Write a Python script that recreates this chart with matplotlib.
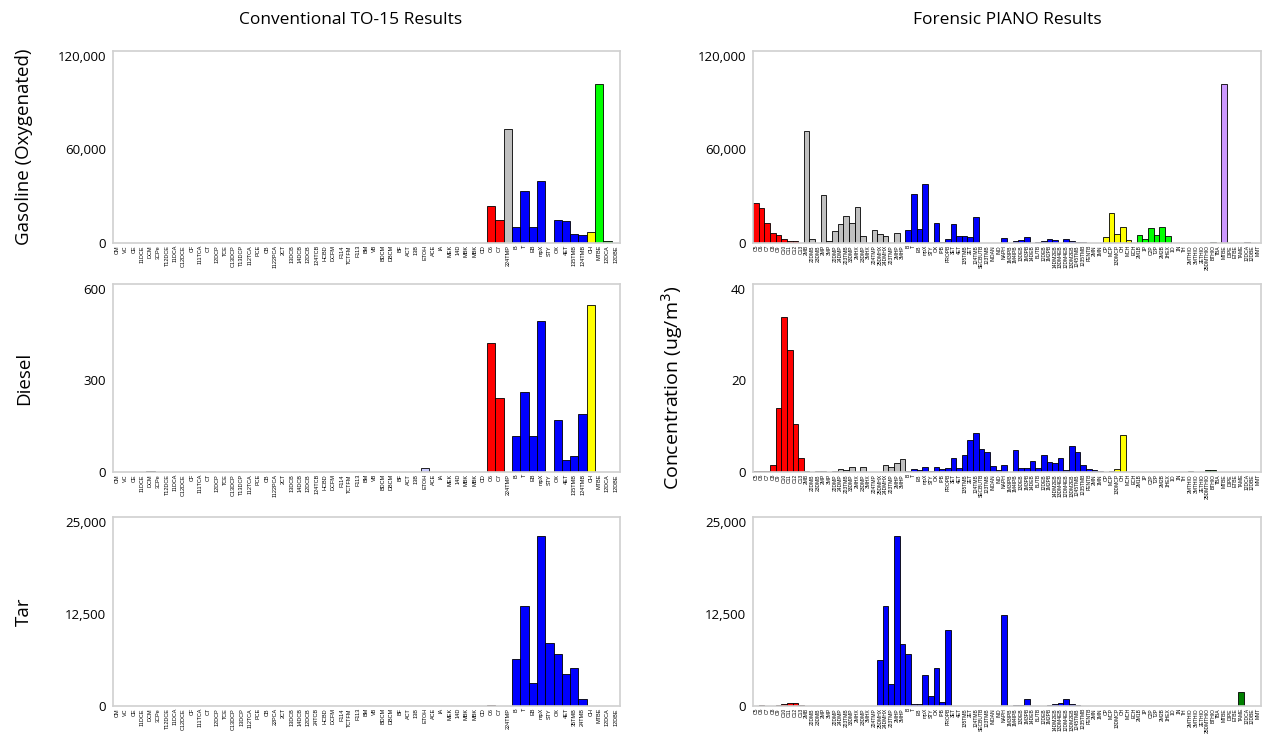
import numpy as np
import matplotlib
matplotlib.use("Agg")
import matplotlib.pyplot as plt

# ---- TO-15 compounds (left column)
to15_labels = ["CM", "VC", "CE", "11DCE", "DCM", "3CPe", "T12DCE", "11DCA", "C12DCE", "CF",
               "111TCA", "CT", "12DCP", "TCE", "C13DCP", "T13DCP", "112TCA", "PCE", "CB", "1122PCA",
               "2CT", "13DCB", "14DCB", "12DCB", "124TCB", "HCBD", "DCFM", "F114", "TCTFM", "F113",
               "BM", "VB", "BDCM", "DBCM", "BF", "ACT", "13B", "ETOH", "ACE", "IA",
               "MEK", "14D", "MBK", "MBK", "CD", "C6", "C7", "224TMP", "B", "T",
               "EB", "mpX", "STY", "OX", "4ET", "135TMB", "124TMB", "CH", "MTBE", "12DCA", "12DBE"]
tar_to15_labels = [l.replace("1122PCA", "22PCA").replace("124TCB", "24TCB")
                   .replace("135TMB", "35TMB").replace("124TMB", "24TMB")
                   .replace("T13DCP", "13DCP") for l in to15_labels]

to15_gasoline = {"C6": 24000, "C7": 15000, "224TMP": 73000, "B": 10000, "T": 33000,
                 "EB": 10500, "mpX": 39500, "OX": 14800, "4ET": 14200, "135TMB": 5500,
                 "124TMB": 5000, "CH": 7000, "MTBE": 102000, "12DCA": 1000}
to15_diesel = {"DCM": 3, "ETOH": 12, "C6": 423, "C7": 242, "B": 119, "T": 261, "EB": 119,
               "mpX": 494, "OX": 171, "4ET": 39, "135TMB": 52, "124TMB": 190, "CH": 545}
to15_tar = {"C6": 150, "B": 6400, "T": 13600, "EB": 3100, "mpX": 23100, "STY": 8550,
            "OX": 7100, "4ET": 4300, "135TMB": 5200, "124TMB": 900}

to15_groups = {"#ff0000": ["C6", "C7"], "#c0c0c0": ["224TMP"],
               "#0000ff": ["B", "T", "EB", "mpX", "STY", "OX", "4ET", "135TMB", "124TMB"],
               "#ffff00": ["CH"], "#00ff00": ["MTBE", "12DCA"], "#000000": ["DCM"]}

# ---- PIANO compounds (right column)
piano_labels = (["C5", "C6", "C7", "C8", "C9", "C10", "C11", "C12", "C13"] +
                ["2MB", "22DMB", "23DMB", "2MP", "3MP", "22DMP", "24DMP", "223TMB", "33DMP",
                 "2MHX", "23DMP", "3MHX", "224TMP", "25DMHX", "24DMHX", "223TMP", "2MHP", "3MHP"] +
                ["B", "T", "EB", "mpX", "STY", "OX", "IPB", "PROPB", "3ET", "4ET", "135TMB",
                 "2ET", "124TMB", "SECBUTB", "123TMB", "INDAN", "IND", "NAPH",
                 "1M3IPB", "1M4IPB", "13DEB", "1M3PB", "14DEB", "BUTB", "12DEB", "1M2PB",
                 "14DM2EB", "13DM4EB", "12DM4EB", "13DM2EB", "1245TMB", "1235TMB", "PENTB",
                 "2MN", "1MN"] +
                ["CP", "MCP", "13DMCP", "CH", "MCH", "ECH"] +
                ["2M1B", "1P", "C2P", "T2P", "2M2B", "1HEX"] +
                ["1O", "1N", "TH", "2MTHIO", "3MTHIO", "2ETHIO", "25DMTHIO", "BTHIO"] +
                ["TBA", "MTBE", "DIPE", "ETBE", "TAME", "12DCA", "12DBE", "MMT"])
piano_group_sizes = [("#ff0000", 9), ("#c0c0c0", 18), ("#0000ff", 35), ("#ffff00", 6),
                     ("#00ff00", 6), ("#008000", 8), ("#cc99ff", 8)]
# tar panel bars drawn in other colours than their group in the original chart
tar_color_override = {22: "#0000ff", 23: "#0000ff", 24: "#0000ff", 25: "#0000ff",
                      26: "#0000ff", 86: "#008000"}

piano_gasoline = [25500, 22200, 13100, 6500, 5200, 2600, 1300, 1300, 0,
                  72000, 2600, 0, 30500, 1100, 7600, 12400, 17400, 12900, 22900,
                  4400, 0, 8500, 5900, 4400, 0, 6500, 0,
                  8500, 31400, 9200, 37900, 0, 13100, 650, 2600, 12400, 4800,
                  4800, 3900, 16400, 300, 0, 0, 0, 3300,
                  0, 1100, 2000, 3700, 0, 650, 1300, 2600, 2000, 0,
                  2800, 1300, 900, 650, 0, 0, 0,
                  3900, 19400, 5900, 10500, 1700, 0,
                  5000, 2600, 9800, 5000, 10500, 4600,
                  0, 0, 0, 0, 0, 0, 0, 650,
                  0, 101600, 0, 0, 0, 650, 0, 0]
piano_diesel = [0.2, 0.2, 0.2, 1.6, 14.0, 33.7, 26.7, 10.5, 3.1,
                0.2, 0.1, 0.2, 0.2, 0.1, 0.2, 0.6, 0.5, 1.1,
                0, 1.1, 0, 0, 0, 1.5, 1.1, 1.9, 2.8,
                0.2, 0.6, 0.4, 1.1, 0.2, 1.1, 0.6, 0.8, 3.1, 0.9,
                3.8, 7.0, 8.4, 5.0, 4.3, 1.3, 0.5, 1.6,
                0, 4.7, 0.9, 0.8, 2.4, 0.9, 3.7, 2.2, 2.0, 3.1,
                0.5, 5.7, 4.4, 1.6, 0.7, 0.4, 0.2,
                0.1, 0.3, 0.6, 8.0, 0, 0,
                0, 0, 0, 0, 0, 0,
                0, 0, 0, 0.2, 0, 0, 0.35, 0.35,
                0, 0, 0, 0, 0, 0, 0, 0]
piano_tar = [0, 100, 0, 0, 200, 300, 400, 450, 150,
             0, 0, 50, 0, 50, 0, 0, 0, 0,
             0, 0, 0, 0, 6300, 13600, 3000, 23000, 8400,
             7100, 300, 300, 4200, 1300, 5200, 600, 10300, 0,
             0, 0, 0, 0, 0, 0, 0, 0, 12300,
             0, 200, 200, 900, 0, 0, 0, 200, 300, 400,
             1000, 300, 200, 0, 0, 0, 0,
             0, 0, 0, 0, 0, 0,
             0, 0, 0, 0, 0, 0,
             0, 0, 0, 0, 0, 0, 0, 0,
             0, 0, 0, 0, 1900, 0, 0, 0]

rows = ["Gasoline (Oxygenated)", "Diesel", "Tar"]
left_ticks = [[0, 60000, 120000], [0, 300, 600], [0, 12500, 25000]]
right_ticks = [[0, 60000, 120000], [0, 20, 40], [0, 12500, 25000]]

tick_font = "Open Sans"
label_font = "Liberation Sans"


def to15_colors():
    cols = []
    for lab in to15_labels:
        c = "#ccccff"
        for col, names in to15_groups.items():
            if lab in names:
                c = col
        cols.append(c)
    return cols


def piano_colors(override=None):
    cols = []
    for c, n in piano_group_sizes:
        cols += [c] * n
    for k, v in (override or {}).items():
        cols[k] = v
    return cols


def style_axes(ax, labels, ticks, fs):
    n = len(labels)
    ax.set_xlim(-0.5, n - 0.5)
    ax.set_ylim(0, ticks[-1] * 1.025)
    ax.set_xticks(np.arange(n))
    ax.set_xticklabels(labels, rotation=90, fontsize=fs, family=label_font)
    ax.set_yticks(ticks)
    ax.set_yticklabels([f"{t:,}" for t in ticks], fontsize=9.5, family=tick_font)
    ax.tick_params(length=0, axis="x", pad=1.5)
    ax.tick_params(length=0, axis="y", pad=5)
    for s in ax.spines.values():
        s.set_color("#d0d0d0")
        s.set_linewidth(1.2)


fig = plt.figure(figsize=(12.66, 7.36), dpi=100)
H = 736.0
W = 1266.0
row_px = [(51, 243), (284, 472), (517, 706)]

left_data = [to15_gasoline, to15_diesel, to15_tar]
right_data = [piano_gasoline, piano_diesel, piano_tar]
lc = to15_colors()
right_colors = [piano_colors(), piano_colors(), piano_colors(tar_color_override)]

for i, (top, bot) in enumerate(row_px):
    b = 1 - bot / H
    h = (bot - top) / H
    axl = fig.add_axes([113 / W, b, 507 / W, h])
    vals = [left_data[i].get(l, 0) if j != 42 else 0 for j, l in enumerate(to15_labels)]
    axl.bar(np.arange(len(to15_labels)), vals, width=1.0, color=lc,
            edgecolor="black", linewidth=0.6)
    style_axes(axl, tar_to15_labels if i == 2 else to15_labels, left_ticks[i], 4.0)
    fig.text(24 / W, 1 - (top + bot) / 2 / H, rows[i], rotation=90,
             ha="center", va="center", fontsize=13.5, family=tick_font)

    axr = fig.add_axes([753 / W, b, 508 / W, h])
    axr.bar(np.arange(len(piano_labels)), right_data[i], width=1.0, color=right_colors[i],
            edgecolor="black", linewidth=0.6)
    style_axes(axr, piano_labels, right_ticks[i], 3.6)

fig.text(351 / W, 1 - 20 / H, "Conventional TO-15 Results", ha="center", va="center",
         fontsize=12.5, family=tick_font)
fig.text(1007 / W, 1 - 20 / H, "Forensic PIANO Results", ha="center", va="center",
         fontsize=12.5, family=tick_font)
fig.text(672 / W, 1 - 388 / H, "Concentration (ug/m$^3$)", rotation=90, ha="center",
         va="center", fontsize=14, family=tick_font)

fig.savefig("out.png", dpi=100)
